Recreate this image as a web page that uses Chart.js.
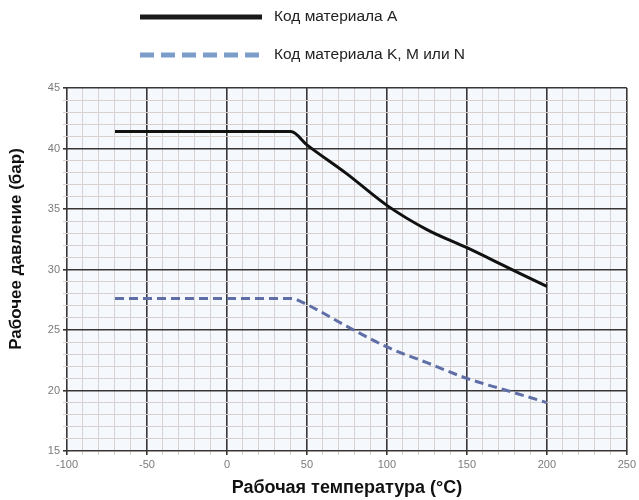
<!DOCTYPE html>
<html>
<head>
<meta charset="utf-8">
<script src="https://cdn.jsdelivr.net/npm/chart.js@4"></script>
<style>
  html, body { margin: 0; padding: 0; background: #fff; }
  #wrap { width: 639px; height: 500px; }
</style>
</head>
<body>
<div id="wrap"><canvas id="pressureChart"></canvas></div>
<script>
// Данные
const temps = [-70, 40, 50, 75, 100, 125, 150, 175, 200];
const pressureA = [41.4, 41.4, 40.3, 37.9, 35.3, 33.3, 31.8, 30.2, 28.6];
const pressureKMN = [27.6, 27.6, 27.1, 25.3, 23.6, 22.3, 21.0, 20.0, 19.0];
const legendLabels = ['Код материала A', 'Код материала K, M или N'];
const yTitle = 'Рабочее давление (бар)';
const xTitle = 'Рабочая температура (°C)';

const toPoints = (ys) => temps.map((t, i) => ({ x: t, y: ys[i] }));
const FONT = '"Liberation Sans", Arial, sans-serif';

// Фон области построения
const plotBg = {
    id: 'plotBg',
    beforeDraw(chart) {
        const { ctx, chartArea: a } = chart;
        ctx.save();
        ctx.fillStyle = '#f5f8fc';
        ctx.fillRect(a.left, a.top, a.right - a.left, a.bottom - a.top);
        ctx.restore();
    }
};

// Легенда сверху (две строки) и подпись оси Y
const topLegend = {
    id: 'topLegend',
    afterDraw(chart) {
        const ctx = chart.ctx;
        const rows = [
            { y: 17, color: '#1a1a1a', dash: [], width: 5 },
            { y: 55, color: '#7c9dca', dash: [14, 7], width: 5 }
        ];
        ctx.save();
        rows.forEach((r, i) => {
            ctx.beginPath();
            ctx.strokeStyle = r.color;
            ctx.lineWidth = r.width;
            ctx.setLineDash(r.dash);
            ctx.moveTo(140, r.y);
            ctx.lineTo(262, r.y);
            ctx.stroke();
            ctx.setLineDash([]);
            ctx.fillStyle = '#222';
            ctx.font = '15.5px ' + FONT;
            ctx.textBaseline = 'middle';
            ctx.fillText(legendLabels[i], 274, r.y);
        });

        // подпись оси Y
        ctx.translate(16, 249);
        ctx.rotate(-Math.PI / 2);
        ctx.font = 'bold 17px ' + FONT;
        ctx.fillStyle = '#111';
        ctx.textAlign = 'center';
        ctx.textBaseline = 'middle';
        ctx.fillText(yTitle, 0, 0);
        ctx.restore();
    }
};

const gridColor = (ctx, step) => {
    const v = ctx.tick ? ctx.tick.value : 0;
    return Math.abs(v % step) < 1e-6 ? '#3a3535' : '#d9d0d0';
};
const gridWidth = (ctx, step) => {
    const v = ctx.tick ? ctx.tick.value : 0;
    return Math.abs(v % step) < 1e-6 ? 1.6 : 1;
};

new Chart(document.getElementById('pressureChart').getContext('2d'), {
    type: 'line',
    data: {
        datasets: [
            {
                label: legendLabels[0],
                data: toPoints(pressureA),
                borderColor: '#111',
                borderWidth: 3,
                pointRadius: 0,
                cubicInterpolationMode: 'monotone',
                fill: false
            },
            {
                label: legendLabels[1],
                data: toPoints(pressureKMN),
                borderColor: '#5f6ea6',
                borderWidth: 3,
                borderDash: [9, 5],
                pointRadius: 0,
                cubicInterpolationMode: 'monotone',
                fill: false
            }
        ]
    },
    options: {
        responsive: true,
        maintainAspectRatio: false,
        animation: false,
        layout: { padding: { top: 88, right: 11, left: 0, bottom: 0 } },
        plugins: {
            legend: { display: false },
            tooltip: { enabled: false }
        },
        scales: {
            x: {
                type: 'linear',
                min: -100,
                max: 250,
                afterFit(scale) { scale.height = 49; },
                ticks: {
                    stepSize: 10,
                    autoSkip: false,
                    maxRotation: 0,
                    color: '#7a7a7a',
                    font: { size: 11, family: FONT },
                    padding: 3,
                    callback: (v) => (v % 50 === 0 ? v : '')
                },
                grid: {
                    color: (c) => gridColor(c, 50),
                    lineWidth: (c) => gridWidth(c, 50),
                    tickLength: 4
                },
                border: { display: false },
                title: {
                    display: true,
                    text: xTitle,
                    color: '#111',
                    font: { size: 18, weight: 'bold', family: FONT },
                    padding: { top: 0, bottom: 1 }
                }
            },
            y: {
                min: 15,
                max: 45,
                afterFit(scale) { scale.width = 67; },
                ticks: {
                    stepSize: 1,
                    autoSkip: false,
                    color: '#7a7a7a',
                    font: { size: 11, family: FONT },
                    padding: 3,
                    callback: (v) => (v % 5 === 0 ? v : '')
                },
                grid: {
                    color: (c) => gridColor(c, 5),
                    lineWidth: (c) => gridWidth(c, 5),
                    tickLength: 4
                },
                border: { display: false },
                title: { display: false }
            }
        }
    },
    plugins: [plotBg, topLegend]
});
</script>
</body>
</html>
